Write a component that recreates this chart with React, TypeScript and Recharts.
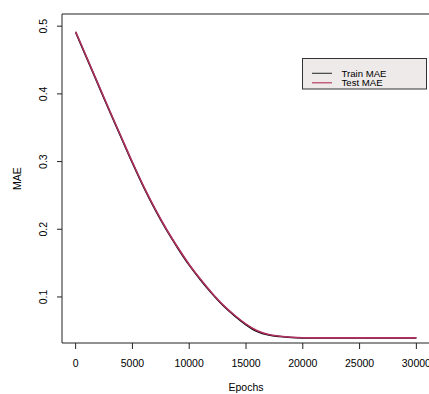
import React from "react";
import { LineChart, Line, XAxis, YAxis, ReferenceArea } from "recharts";

const epochs = [
  0, 1000, 2000, 3000, 4000, 5000, 6000, 7000, 8000, 9000, 10000, 11000, 12000, 13000, 14000, 15000,
  16000, 17000, 18000, 19000, 20000, 21000, 22000, 23000, 24000, 25000, 26000, 27000, 28000, 29000, 30000,
];
const trainMae = [
  0.491, 0.452, 0.413, 0.374, 0.336, 0.298, 0.262, 0.229, 0.199, 0.172, 0.147, 0.125, 0.105, 0.087,
  0.072, 0.059, 0.049, 0.0438, 0.0415, 0.0402, 0.0396, 0.0394, 0.0394, 0.0394, 0.0394, 0.0394, 0.0394,
  0.0394, 0.0394, 0.0394, 0.0394,
];
const testMae = [
  0.492, 0.453, 0.414, 0.375, 0.337, 0.299, 0.263, 0.23, 0.2, 0.173, 0.148, 0.126, 0.106, 0.088, 0.073,
  0.06, 0.05, 0.0445, 0.042, 0.0405, 0.0398, 0.0396, 0.0396, 0.0396, 0.0396, 0.0396, 0.0396, 0.0396,
  0.0396, 0.0396, 0.0396,
];
const xTicks = [0, 5000, 10000, 15000, 20000, 25000, 30000];
const yTicks = [0.1, 0.2, 0.3, 0.4, 0.5];
const legendItems = [
  { name: "Train MAE", color: "#333333" },
  { name: "Test MAE", color: "#B03060" },
];

const data = epochs.map((e, i) => ({ epoch: e, train: trainMae[i], test: testMae[i] }));

const FONT = '"Liberation Sans", Arial, Helvetica, sans-serif';

const XTick = (props: any) => {
  const { x, payload } = props;
  return (
    <text x={x} y={366.5} textAnchor="middle" fontSize={10.5} fontFamily={FONT} fill="#000">
      {payload.value}
    </text>
  );
};

const YTick = (props: any) => {
  const { y, payload } = props;
  return (
    <text
      x={47.5}
      y={y}
      transform={`rotate(-90, 47.5, ${y})`}
      textAnchor="middle"
      fontSize={10.5}
      fontFamily={FONT}
      fill="#000"
    >
      {payload.value}
    </text>
  );
};

export default function App() {
  return (
    <div style={{ position: "fixed", left: 0, top: 0, width: 429, height: 394, background: "#fff", overflow: "hidden" }}>
      <LineChart width={430} height={394} data={data} margin={{ top: 14, right: 0, bottom: 0, left: 0 }}>
        <XAxis
          dataKey="epoch"
          type="number"
          domain={[-1200, 31200]}
          ticks={xTicks}
          height={51}
          axisLine={false}
          tickSize={6}
          tickLine={{ stroke: "#222" }}
          tick={<XTick />}
          interval={0}
        />
        <YAxis
          type="number"
          domain={[0.032, 0.518]}
          ticks={yTicks}
          width={62}
          axisLine={false}
          tickSize={5}
          tickLine={{ stroke: "#222" }}
          tick={<YTick />}
          interval={0}
        />
        <ReferenceArea
          x1={-1200}
          x2={31200}
          y1={0.032}
          y2={0.518}
          fill="none"
          fillOpacity={0}
          stroke="#222"
          strokeWidth={1}
        />
        <Line
          type="monotone"
          dataKey="train"
          stroke="#000000"
          strokeWidth={1.6}
          dot={false}
          isAnimationActive={false}
        />
        <Line
          type="monotone"
          dataKey="test"
          stroke="#B03060"
          strokeWidth={1.6}
          dot={false}
          isAnimationActive={false}
        />
        <text x={246} y={391} textAnchor="middle" fontSize={10.5} fontFamily={FONT} fill="#000">
          Epochs
        </text>
        <text
          x={21}
          y={178.5}
          transform="rotate(-90, 21, 178.5)"
          textAnchor="middle"
          fontSize={10.5}
          fontFamily={FONT}
          fill="#000"
        >
          MAE
        </text>
        <g>
          <rect x={302.5} y={58.5} width={124} height={30.5} fill="#EEEAEA" stroke="#333" strokeWidth={1} />
          {legendItems.map((item, i) => (
            <g key={item.name}>
              <line
                x1={312}
                x2={332}
                y1={73.3 + i * 9.5}
                y2={73.3 + i * 9.5}
                stroke={item.color}
                strokeWidth={1.1}
              />
              <text x={341.5} y={76.6 + i * 9.6} fontSize={9.6} fontFamily={FONT} fill="#000">
                {item.name}
              </text>
            </g>
          ))}
        </g>
      </LineChart>
    </div>
  );
}
